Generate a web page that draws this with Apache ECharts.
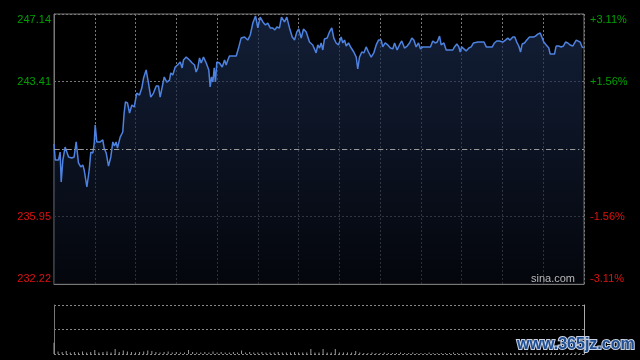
<!DOCTYPE html>
<html><head><meta charset="utf-8">
<script src="https://cdn.jsdelivr.net/npm/echarts@6/dist/echarts.min.js"></script>
<style>html,body{margin:0;padding:0;background:#000;}#c{width:640px;height:360px;}</style>
</head><body><div id="c"></div>
<script>
// minutes since market open
const times = [0,0.9,3.3,4.0,4.5,5.3,6.5,8.2,10.7,13.1,14.8,16.3,18.0,19.7,21.2,22.2,24.2,25.9,27.1,28.6,29.6,30.3,31.5,34.0,35.9,36.9,38.4,40.1,41.8,43.3,44.5,45.7,46.7,48.7,50.6,51.6,52.6,54.1,55.6,57.3,59.0,60.9,62.9,64.6,65.9,67.8,69.5,71.2,73.2,75.2,76.9,78.1,79.3,81.1,83.0,85.0,85.9,87.4,89.2,90.9,92.9,
94.3,95.3,97.3,99.7,101.7,103.4,104.6,105.8,107.1,108.3,110.0,112.0,113.9,114.9,115.9,116.9,117.9,118.8,119.8,121.8,123.8,125.5,126.7,127.9,129.1,131.6,134.1,136.0,137.7,140.2,142.6,144.4,146.3,148.3,150.0,151.7,153.7,155.6,157.3,159.1,161.0,162.5,164.0,165.9,167.4,169.6,171.3,173.3,175.3,177.0,178.7,180.1,181.9,183.6,185.6,188.0,190.4,192.9,
194.1,195.4,196.6,197.8,199.0,201.0,202.7,204.4,205.9,207.6,209.3,211.3,212.5,213.8,215.0,216.7,218.7,220.6,222.4,223.5,224.8,226.5,228.0,229.7,231.4,233.4,235.3,237.1,238.8,240.8,241.9,243.7,245.6,247.6,249.3,250.6,252.5,254.2,255.9,257.9,259.9,261.6,263.3,264.8,266.5,268.2,269.7,271.4,275.1,277.0,278.7,280.5,282.0,283.7,284.9,286.9,288.6,291.0,293.5,
294.7,296.4,297.9,298.9,299.9,301.3,303.3,305.3,307.0,308.7,309.5,311.9,314.4,316.4,318.1,319.2,321.0,322.5,324.1,325.8,327.8,330.2,332.2,333.9,335.6,337.6,339.1,340.5,342.0,343.3,344.5,346.2,347.9,349.9,351.1,352.8,354.3,356.0,357.8,359.2,360.4,362.2,364.1,365.1,368.3,369.5,371.4,373.2,374.9,376.4,378.1,379.8,381.7,383.0,384.3,385.5,387.2,388.6,389.6];
const prices = [239.96,239.07,239.07,238.96,239.51,237.86,239.07,239.79,239.24,239.18,239.24,240.07,238.91,238.69,238.80,238.52,237.58,238.52,239.51,239.46,240.01,241.01,240.07,240.07,240.18,239.73,239.46,238.74,239.24,240.07,239.85,240.07,239.73,240.34,240.62,241.67,242.28,242.22,241.67,242.11,242.00,242.77,242.66,243.05,243.60,244.05,243.33,242.55,242.77,243.16,243.16,242.55,242.50,243.66,243.38,243.49,243.88,243.77,244.21,244.32,244.49,
244.16,244.60,244.76,244.60,244.43,244.32,243.93,244.16,244.71,244.43,244.76,244.43,244.05,243.11,243.66,243.38,244.16,243.38,244.49,244.43,244.21,244.60,244.32,244.60,244.82,244.82,244.82,245.32,245.81,245.87,245.70,245.98,246.64,247.03,246.37,246.97,246.70,246.53,246.64,246.37,246.37,246.26,246.42,246.37,246.97,246.70,246.97,246.37,245.87,245.70,246.15,246.31,245.81,246.31,246.15,245.59,245.43,244.99,
245.43,245.26,245.54,245.15,245.76,245.81,246.15,246.37,245.81,245.54,245.43,245.87,245.54,245.70,245.37,245.54,245.26,245.04,244.76,244.10,244.76,245.04,244.99,245.32,245.04,244.76,244.99,245.43,245.70,245.70,245.32,245.54,245.43,245.26,245.21,245.54,245.15,245.43,245.65,245.26,245.37,245.54,245.81,245.70,245.32,245.54,245.21,245.32,245.32,245.32,245.65,245.54,245.59,245.92,245.43,245.54,245.15,245.15,245.15,
245.32,245.48,245.32,245.04,245.32,245.26,245.10,245.26,245.32,245.54,245.65,245.59,245.59,245.59,245.32,245.26,245.32,245.32,245.54,245.65,245.65,245.59,245.70,245.81,245.70,245.87,245.87,245.59,245.37,245.04,245.48,245.54,245.70,245.87,245.98,245.87,245.92,246.03,246.09,246.09,245.59,245.43,245.26,244.93,244.93,245.37,245.37,245.32,245.37,245.59,245.54,245.43,245.37,245.26,245.70,245.59,245.59,245.32,245.26];
// volume, one bar every 3 minutes
const volumes = [23,5,4,6,3,4,3,5,3,4, 8,3,4,5,3,10,4,7,5,4, 3,4,5,7,6,4,3,4,5,3, 4,3,3,8,4,3,3,4,3,5, 3,4,3,3,4,3,7,3,4,3, 3,4,3,3,3,4,3,3,3,4, 3,3,3,10,3,3,10,3,3,10, 3,3,3,3,6,3,2,2,3,2, 2,3,2,2,2,3,2,2,3,2, 2,2,3,2,2,2,2,2,3,2, 2,3,2,2,2,3,2,2,2,2, 3,2,2,2,2,2,3,2,2,2, 2,2,3,2,2,2,2,2,3,2];
const priceTicks = [232.22, 235.95, 239.68, 243.41, 247.14];
const prevClose = 239.68;

const G = '#00a000', R = '#dd1111';
const priceData = times.map((t, i) => [t, prices[i]]);
const volData = volumes.map((v, i) => [i * 3, v]);
const yMin = priceTicks[0], yMax = priceTicks[priceTicks.length - 1];
const step = +(priceTicks[1] - priceTicks[0]).toFixed(2);

function tag(v, txt) {
  if (Math.abs(v - prevClose) < 0.001) return '';
  if (Math.abs(v - yMax) < 0.001) return '{tg|' + txt + '}';
  if (Math.abs(v - yMin) < 0.001) return '{br|' + txt + '}';
  return (v > prevClose ? '{g|' : '{r|') + txt + '}';
}
const rich = {
  tg: {color: G, padding: [11, 0, 0, 0], fontSize: 11, fontFamily: 'Liberation Sans'},
  g: {color: G, fontSize: 11, fontFamily: 'Liberation Sans'},
  r: {color: R, fontSize: 11, fontFamily: 'Liberation Sans'},
  br: {color: R, padding: [0, 0, 11, 0], fontSize: 11, fontFamily: 'Liberation Sans'}
};
const dotted = {color: '#777', type: [2, 2], width: 1};

const chart = echarts.init(document.getElementById('c'));
chart.setOption({
  backgroundColor: '#000',
  animation: false,
  grid: [
    {left: 54, right: 56, top: 14, bottom: 76, show: true, borderColor: '#777', borderWidth: 1, backgroundColor: 'transparent'},
    {left: 54, right: 56, top: 305, bottom: 6}
  ],
  xAxis: [
    {type: 'value', gridIndex: 0, min: 0, max: 390, interval: 30,
     axisLine: {show: true, lineStyle: {color: '#777'}}, axisTick: {show: false}, axisLabel: {show: false},
     splitLine: {show: true, lineStyle: dotted}},
    {type: 'value', gridIndex: 1, min: 0, max: 390,
     axisLine: {show: false}, axisTick: {show: false}, axisLabel: {show: false}, splitLine: {show: false}}
  ],
  yAxis: [
    {type: 'value', gridIndex: 0, min: yMin, max: yMax, interval: step, position: 'left',
     axisLine: {show: true, lineStyle: {color: '#777'}}, axisTick: {show: false},
     axisLabel: {margin: 3, rich: rich, formatter: v => tag(v, v.toFixed(2))},
     splitLine: {show: true, lineStyle: dotted}},
    {type: 'value', gridIndex: 0, min: yMin, max: yMax, interval: step, position: 'right',
     axisLine: {show: false}, axisTick: {show: false},
     axisLabel: {margin: 6, align: 'left', rich: rich, formatter: v => {
       const p = (v - prevClose) / prevClose * 100;
       return tag(v, (p > 0 ? '+' : '') + p.toFixed(2) + '%');
     }},
     splitLine: {show: false}},
    {type: 'value', gridIndex: 1, min: 0, max: 100, interval: 50, position: 'left',
     axisLine: {show: true, lineStyle: {color: '#777'}}, axisTick: {show: false}, axisLabel: {show: false},
     splitLine: {show: true, lineStyle: {color: '#888', type: [2, 2]}}},
    {type: 'value', gridIndex: 1, min: 0, max: 100, position: 'right',
     axisLine: {show: true, lineStyle: {color: '#aaa'}}, axisTick: {show: false}, axisLabel: {show: false},
     splitLine: {show: false}}
  ],
  series: [
    {type: 'line', xAxisIndex: 0, yAxisIndex: 0, data: priceData, showSymbol: false, smooth: false,
     lineStyle: {color: '#4d82e0', width: 1.5},
     areaStyle: {origin: 'start', color: new echarts.graphic.LinearGradient(0, 0, 0, 1, [
       {offset: 0, color: 'rgba(28,46,82,0.95)'}, {offset: 1, color: 'rgba(6,9,18,0.95)'}])},
     markLine: {silent: true, symbol: 'none', label: {show: false},
       lineStyle: {color: '#999', type: [5, 3, 1, 3], width: 1},
       data: [{yAxis: prevClose}]},
     z: 3},
    {type: 'bar', xAxisIndex: 1, yAxisIndex: 2, data: volData, barWidth: 1,
     itemStyle: {color: '#999'}}
  ],
  graphic: [
    {type: 'text', left: 531, top: 273, style: {text: 'sina.com', fill: '#b8b8b8', fontSize: 11, fontFamily: 'Liberation Sans'}, z: 10},
    {type: 'text', left: 516, top: 336, style: {text: 'www.365jz.com', fill: '#1f4f92', stroke: '#c9d2e2', lineWidth: 2,
      fontSize: 16, fontWeight: 'bold', fontFamily: 'Liberation Sans'}, z: 10}
  ]
});
</script></body></html>
